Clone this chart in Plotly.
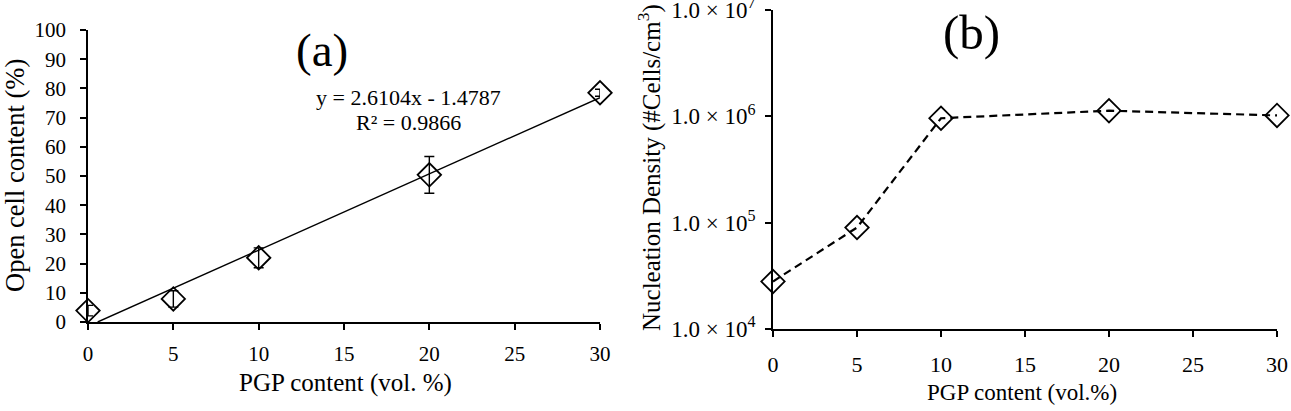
import plotly.graph_objects as go

# Panel (a) data
pgp_a = [0, 5, 10, 20, 30]
open_cell = [3.9, 7.9, 22.0, 50.4, 78.5]
open_cell_err = [1.8, 2.8, 3.4, 6.3, 1.2]
slope, intercept = 2.6104, -1.4787
trend_x = [-intercept / slope, 30]
x_ticks = [0, 5, 10, 15, 20, 25, 30]

# Panel (b) data
pgp_b = [0, 5, 10, 20, 30]
nucleation = [2.8e4, 9.0e4, 9.6e5, 1.13e6, 1.02e6]
log_tickvals = [1e4, 1e5, 1e6, 1e7]
log_ticktext = ["1.0 × 10<sup>4</sup>", "1.0 × 10<sup>5</sup>",
                "1.0 × 10<sup>6</sup>", "1.0 × 10<sup>7</sup>"]

W, H = 1291, 411
FONT = "Liberation Serif, Times New Roman, serif"

fig = go.Figure()

fig.add_trace(go.Scatter(
    x=trend_x, y=[slope * v + intercept for v in trend_x],
    mode="lines", line=dict(color="black", width=1.4),
    xaxis="x", yaxis="y", showlegend=False, hoverinfo="skip"))

fig.add_trace(go.Scatter(
    x=pgp_a, y=open_cell, mode="markers", cliponaxis=False,
    marker=dict(symbol="diamond-open", size=18, color="black", line=dict(width=1.8)),
    error_y=dict(type="data", array=open_cell_err, color="black", thickness=1.4, width=5),
    xaxis="x", yaxis="y", showlegend=False))

fig.add_trace(go.Scatter(
    x=pgp_b, y=nucleation, mode="lines+markers", cliponaxis=False,
    line=dict(color="black", width=2.2, dash="8px,5px"),
    marker=dict(symbol="diamond-open", size=18, color="black", line=dict(width=1.8)),
    xaxis="x2", yaxis="y2", showlegend=False))

def px(x):
    return x / W

def py(y):
    return (H - y) / H

axis_common = dict(showgrid=False, zeroline=False, showline=True, linecolor="black",
                   ticks="outside", tickcolor="black", ticklen=6, tickwidth=1.5,
                   automargin=False, ticklabeloverflow="allow")

fig.update_layout(
    width=W, height=H, margin=dict(l=0, r=0, t=0, b=0, autoexpand=False),
    paper_bgcolor="white", plot_bgcolor="white",
    font=dict(family=FONT, color="black"),
    xaxis=dict(domain=[px(88), px(600)], range=[0, 30], tickvals=x_ticks,
               anchor="y", linewidth=2.2, tickfont=dict(size=21), ticklabelstandoff=6,
               **axis_common),
    yaxis=dict(domain=[py(322), py(30)], range=[0, 100], dtick=10,
               anchor="x", linewidth=1.6, tickfont=dict(size=21), ticklabelstandoff=10,
               **axis_common),
    xaxis2=dict(domain=[px(773), px(1277)], range=[0, 30], tickvals=x_ticks,
                anchor="y2", linewidth=2.2, tickfont=dict(size=22), ticklabelstandoff=8,
                **axis_common),
    yaxis2=dict(domain=[py(329), py(10)], type="log", range=[4, 7],
                tickvals=log_tickvals, ticktext=log_ticktext,
                anchor="x2", linewidth=1.6, tickfont=dict(size=23), ticklabelstandoff=5,
                **axis_common),
    annotations=[
        dict(text="Open cell content (%)", x=px(15), y=py(176), xref="paper", yref="paper",
             showarrow=False, font=dict(size=26.5), textangle=-90,
             xanchor="center", yanchor="middle"),
        dict(text="PGP content (vol. %)", x=px(345), y=py(383), xref="paper", yref="paper",
             showarrow=False, font=dict(size=25), xanchor="center", yanchor="middle"),
        dict(text="Nucleation Density (#Cells/cm<sup>3</sup>)", x=px(650), y=py(168),
             xref="paper", yref="paper", showarrow=False, font=dict(size=25), textangle=-90,
             xanchor="center", yanchor="middle"),
        dict(text="PGP content (vol.%)", x=px(1022), y=py(392), xref="paper", yref="paper",
             showarrow=False, font=dict(size=23), xanchor="center", yanchor="middle"),
        dict(text="(a)", x=px(322), y=py(50), xref="paper", yref="paper",
             showarrow=False, font=dict(size=47), xanchor="center", yanchor="middle"),
        dict(text="(b)", x=px(972), y=py(32), xref="paper", yref="paper",
             showarrow=False, font=dict(size=49), xanchor="center", yanchor="middle"),
        dict(text="y = 2.6104x - 1.4787", x=px(408), y=py(97), xref="paper", yref="paper",
             showarrow=False, font=dict(size=22), xanchor="center", yanchor="middle"),
        dict(text="R² = 0.9866", x=px(408), y=py(123), xref="paper", yref="paper",
             showarrow=False, font=dict(size=22), xanchor="center", yanchor="middle"),
    ],
)

fig.write_html("out.html")
